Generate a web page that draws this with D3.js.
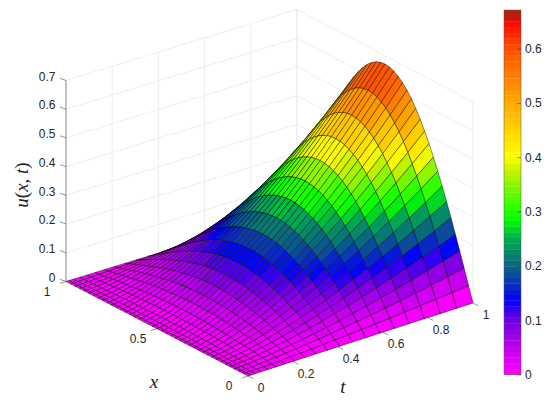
<!DOCTYPE html>
<html>
<head>
<meta charset="utf-8">
<script src="https://cdn.jsdelivr.net/npm/d3@7"></script>
<style>
body { margin: 0; background: #fff; }
text { font-family: "Liberation Sans", Arial, sans-serif; font-size: 12px; fill: #262626; }
.math { font-family: "Liberation Serif", serif; font-size: 19px; fill: #222; }
</style>
</head>
<body>
<div id="chart"></div>
<script>
// ticks
var xTicks = [0, 0.5, 1];
var tTicks = [0, 0.2, 0.4, 0.6, 0.8, 1];
var zTicks = [0, 0.1, 0.2, 0.3, 0.4, 0.5, 0.6, 0.7];
var barTicks = [0, 0.1, 0.2, 0.3, 0.4, 0.5, 0.6];

// colormap
var cmapValues = [0, 0.045, 0.1, 0.137, 0.174, 0.2, 0.248, 0.285, 0.32, 0.376, 0.4, 0.5, 0.6, 0.653, 0.656, 0.671];
var cmapColors = ["#ff00ff", "#c800f0", "#6e00e1", "#0000ff", "#0a3caa", "#0a6482", "#00aa50", "#00ff00", "#46ff00", "#c8f000", "#ffff00", "#ffaa00", "#ff5000", "#ff0000", "#b41e0a", "#b41e0a"];
var uMax = 0.671;

// mesh lines, the t spacing gets tighter near t=0
var xNodes = [0,.025,.05,.075,.1,.125,.15,.175,.2,.225,.25,.275,.3,.325,.35,.375,.4,.425,.45,.475,.5,.525,.55,.575,.6,.625,.65,.675,.7,.725,.75,.775,.8,.825,.85,.875,.9,.925,.95,.975,1];
var tNodes = [0,.0112,.0316,.0581,.0894,.125,.1643,.2071,.253,.3019,.3536,.4079,.4648,.5240,.5857,.6495,.7155,.7837,.8538,.9259,1];

// surface heights, one row per t node
var uRows = [
[0,0,0,0,0,0,0,0,0,0,0,0,0,0,0,0,0,0,0,0,0,0,0,0,0,0,0,0,0,0,0,0,0,0,0,0,0,0,0,0,0],
[0,.0001,.0001,.0002,.0002,.0003,.0004,.0004,.0005,.0005,.0006,.0006,.0006,.0007,.0007,.0007,.0008,.0008,.0008,.0008,.0008,.0008,.0008,.0008,.0008,.0007,.0007,.0007,.0006,.0006,.0006,.0005,.0005,.0004,.0004,.0003,.0002,.0002,.0001,.0001,0],
[0,.0003,.0006,.0009,.0012,.0015,.0017,.0020,.0022,.0025,.0027,.0029,.0031,.0032,.0034,.0035,.0036,.0037,.0038,.0038,.0038,.0038,.0038,.0037,.0036,.0035,.0034,.0032,.0031,.0029,.0027,.0025,.0022,.0020,.0017,.0015,.0012,.0009,.0006,.0003,0],
[0,.0007,.0015,.0022,.0029,.0036,.0043,.0049,.0055,.0061,.0066,.0071,.0076,.0080,.0084,.0087,.0089,.0091,.0093,.0094,.0094,.0094,.0093,.0091,.0089,.0087,.0084,.0080,.0076,.0071,.0066,.0061,.0055,.0049,.0043,.0036,.0029,.0022,.0015,.0007,0],
[0,.0014,.0028,.0042,.0055,.0069,.0081,.0093,.0105,.0116,.0127,.0136,.0145,.0153,.0159,.0165,.0170,.0174,.0177,.0178,.0179,.0178,.0177,.0174,.0170,.0165,.0159,.0153,.0145,.0136,.0127,.0116,.0105,.0093,.0081,.0069,.0055,.0042,.0028,.0014,0],
[0,.0023,.0046,.0069,.0092,.0114,.0135,.0155,.0175,.0193,.0210,.0226,.0240,.0253,.0265,.0274,.0282,.0289,.0293,.0296,.0297,.0296,.0293,.0289,.0282,.0274,.0265,.0253,.0240,.0226,.0210,.0193,.0175,.0155,.0135,.0114,.0092,.0069,.0046,.0023,0],
[0,.0035,.0070,.0104,.0138,.0171,.0203,.0233,.0263,.0290,.0316,.0340,.0362,.0381,.0398,.0413,.0425,.0434,.0442,.0446,.0447,.0446,.0442,.0434,.0425,.0413,.0398,.0381,.0362,.0340,.0316,.0290,.0263,.0233,.0203,.0171,.0138,.0104,.0070,.0035,0],
[0,.0049,.0099,.0147,.0195,.0242,.0287,.0330,.0372,.0410,.0447,.0480,.0511,.0539,.0563,.0584,.0601,.0614,.0624,.0630,.0632,.0630,.0624,.0614,.0601,.0584,.0563,.0539,.0511,.0480,.0447,.0410,.0372,.0330,.0287,.0242,.0195,.0147,.0099,.0049,0],
[0,.0067,.0133,.0199,.0264,.0327,.0388,.0446,.0502,.0554,.0604,.0649,.0691,.0728,.0761,.0789,.0812,.0830,.0844,.0851,.0854,.0851,.0844,.0830,.0812,.0789,.0761,.0728,.0691,.0649,.0604,.0554,.0502,.0446,.0388,.0327,.0264,.0199,.0133,.0067,0],
[0,.0087,.0174,.0259,.0344,.0426,.0505,.0581,.0654,.0722,.0787,.0846,.0900,.0949,.0992,.1028,.1058,.1082,.1100,.1110,.1113,.1110,.1100,.1082,.1058,.1028,.0992,.0949,.0900,.0846,.0787,.0722,.0654,.0581,.0505,.0426,.0344,.0259,.0174,.0087,0],
[0,.0110,.0220,.0329,.0436,.0540,.0640,.0736,.0829,.0915,.0997,.1072,.1141,.1203,.1256,.1303,.1341,.1371,.1393,.1406,.1410,.1406,.1393,.1371,.1341,.1303,.1256,.1203,.1141,.1072,.0997,.0915,.0829,.0736,.0640,.0540,.0436,.0329,.0220,.0110,0],
[0,.0136,.0273,.0407,.0540,.0669,.0794,.0912,.1028,.1134,.1236,.1328,.1414,.1491,.1557,.1615,.1662,.1699,.1727,.1743,.1748,.1743,.1727,.1699,.1662,.1615,.1557,.1491,.1414,.1328,.1236,.1134,.1028,.0912,.0794,.0669,.0540,.0407,.0273,.0136,0],
[0,.0166,.0332,.0495,.0657,.0814,.0965,.1110,.1250,.1380,.1503,.1616,.1720,.1813,.1894,.1964,.2022,.2066,.2100,.2120,.2126,.2120,.2100,.2066,.2022,.1964,.1894,.1813,.1720,.1616,.1503,.1380,.1250,.1110,.0965,.0814,.0657,.0495,.0332,.0166,0],
[0,.0199,.0397,.0593,.0787,.0975,.1156,.1329,.1497,.1652,.1800,.1935,.2060,.2172,.2268,.2353,.2421,.2475,.2515,.2538,.2546,.2538,.2515,.2475,.2421,.2353,.2268,.2172,.2060,.1935,.1800,.1652,.1497,.1329,.1156,.0975,.0787,.0593,.0397,.0199,0],
[0,.0235,.0469,.0701,.0929,.1152,.1365,.1570,.1768,.1952,.2126,.2285,.2433,.2565,.2679,.2778,.2860,.2923,.2971,.2998,.3007,.2998,.2971,.2923,.2860,.2778,.2679,.2565,.2433,.2285,.2126,.1952,.1768,.1570,.1365,.1152,.0929,.0701,.0469,.0235,0],
[0,.0274,.0548,.0819,.1086,.1345,.1595,.1834,.2066,.2280,.2484,.2670,.2842,.2997,.3130,.3246,.3341,.3415,.3471,.3502,.3513,.3502,.3471,.3415,.3341,.3246,.3130,.2997,.2842,.2670,.2484,.2280,.2066,.1834,.1595,.1345,.1086,.0819,.0548,.0274,0],
[0,.0317,.0634,.0946,.1255,.1556,.1844,.2120,.2388,.2636,.2872,.3087,.3286,.3465,.3619,.3753,.3863,.3948,.4013,.4050,.4062,.4050,.4013,.3948,.3863,.3753,.3619,.3465,.3286,.3087,.2872,.2636,.2388,.2120,.1844,.1556,.1255,.0946,.0634,.0317,0],
[0,.0363,.0726,.1085,.1438,.1783,.2113,.2430,.2737,.3021,.3291,.3538,.3766,.3971,.4148,.4301,.4427,.4525,.4599,.4641,.4655,.4641,.4599,.4525,.4427,.4301,.4148,.3971,.3766,.3538,.3291,.3021,.2737,.2430,.2113,.1783,.1438,.1085,.0726,.0363,0],
[0,.0413,.0826,.1234,.1636,.2028,.2403,.2763,.3113,.3436,.3743,.4023,.4283,.4516,.4717,.4892,.5035,.5146,.5230,.5278,.5294,.5278,.5230,.5146,.5035,.4892,.4717,.4516,.4283,.4023,.3743,.3436,.3113,.2763,.2403,.2028,.1636,.1234,.0826,.0413,0],
[0,.0466,.0933,.1393,.1847,.2290,.2714,.3121,.3516,.3880,.4227,.4544,.4837,.5100,.5327,.5525,.5686,.5812,.5907,.5961,.5979,.5961,.5907,.5812,.5686,.5525,.5327,.5100,.4837,.4544,.4227,.3880,.3516,.3121,.2714,.2290,.1847,.1393,.0933,.0466,0],
[0,.0523,.1047,.1563,.2073,.2570,.3046,.3503,.3945,.4355,.4744,.5100,.5428,.5724,.5979,.6200,.6381,.6522,.6629,.6690,.6710,.6690,.6629,.6522,.6381,.6200,.5979,.5724,.5428,.5100,.4744,.4355,.3945,.3503,.3046,.2570,.2073,.1563,.1047,.0523,0]
];

var svg = d3.select("#chart").append("svg").attr("width", 550).attr("height", 405);

// floor edges of the box, t=0 and t=1, as functions of x
var edgeT0 = d3.scaleLinear().domain([0, 1]).range([[248, 376], [66, 281.5]]);
var edgeT1 = d3.scaleLinear().domain([0, 1]).range([[473, 303], [297, 210.5]]);
var zScale = d3.scaleLinear().domain([0, 0.7]).range([0, 201]);

function project(x, t, z) {
  var a = edgeT0(x), b = edgeT1(x);
  return [a[0] + (b[0] - a[0]) * t, a[1] + (b[1] - a[1]) * t - zScale(z)];
}
var line = d3.line();

// back walls
var grid = svg.append("g").attr("fill", "none").attr("stroke", "#e6e6e6").attr("stroke-width", 0.7);
zTicks.forEach(function(z) {
  grid.append("path").attr("d", line([project(1, 0, z), project(1, 1, z), project(0, 1, z)]));
});
tTicks.forEach(function(t) {
  grid.append("path").attr("d", line([project(1, t, 0), project(1, t, 0.7)]));
});
xTicks.forEach(function(x) {
  grid.append("path").attr("d", line([project(x, 1, 0), project(x, 1, 0.7)]));
});

// axes lines and ticks
var axes = svg.append("g").attr("fill", "none").attr("stroke", "#777").attr("stroke-width", 0.8);
axes.append("path").attr("d", line([project(1, 0, 0), project(1, 0, 0.7)]));
zTicks.forEach(function(z) {
  var p = project(1, 0, z);
  axes.append("path").attr("d", line([p, [p[0] - 6, p[1] - 2.2]]));
  svg.append("text").attr("x", 55.5).attr("y", p[1] - 4).attr("dy", "0.35em").attr("text-anchor", "end").text(z);
});
xTicks.forEach(function(x) {
  var p = project(x, 0, 0);
  axes.append("path").attr("d", line([p, [p[0] - 6, p[1] + 1.8]]));
  svg.append("text").attr("x", p[0] - 19).attr("y", p[1] + 10).attr("dy", "0.35em").attr("text-anchor", "middle").text(x);
});
tTicks.forEach(function(t) {
  var p = project(0, t, 0);
  axes.append("path").attr("d", line([p, [p[0] + 5.3, p[1] + 2.8]]));
  svg.append("text").attr("x", p[0] + 13).attr("y", p[1] + 12).attr("dy", "0.35em").attr("text-anchor", "middle").text(t);
});

// axis labels
svg.append("text").attr("class", "math").attr("x", 154).attr("y", 388).attr("text-anchor", "middle").style("font-style", "italic").text("x");
svg.append("text").attr("class", "math").attr("x", 343).attr("y", 393).attr("text-anchor", "middle").style("font-style", "italic").text("t");
var ulabel = svg.append("text").attr("class", "math").attr("transform", "translate(28,185) rotate(-90)").attr("text-anchor", "middle");
ulabel.append("tspan").style("font-style", "italic").text("u");
ulabel.append("tspan").text("(");
ulabel.append("tspan").style("font-style", "italic").text("x");
ulabel.append("tspan").text(", ");
ulabel.append("tspan").style("font-style", "italic").text("t");
ulabel.append("tspan").text(")");

// colormap, 64 flat steps
var cmapLinear = d3.scaleLinear().domain(cmapValues).range(cmapColors).interpolate(d3.interpolateRgb);
var nLevels = 64;
function levelOf(v) { return Math.min(nLevels - 1, Math.floor(v / uMax * nLevels)); }
function colorOf(v) { return cmapLinear((levelOf(v) + 0.5) / nLevels * uMax); }

// surface faces, back corner first
var faces = [];
for (var j = tNodes.length - 2; j >= 0; j--) {
  for (var i = xNodes.length - 2; i >= 0; i--) {
    faces.push({i: i, j: j});
  }
}
svg.append("g").selectAll("path").data(faces).join("path")
  .attr("d", function(f) {
    var x0 = xNodes[f.i], x1 = xNodes[f.i + 1], t0 = tNodes[f.j], t1 = tNodes[f.j + 1];
    return line([project(x0, t0, uRows[f.j][f.i]), project(x1, t0, uRows[f.j][f.i + 1]),
      project(x1, t1, uRows[f.j + 1][f.i + 1]), project(x0, t1, uRows[f.j + 1][f.i])]) + "Z";
  })
  .attr("fill", function(f) { return colorOf(uRows[f.j][f.i]); })
  .attr("stroke", "#000").attr("stroke-opacity", 0.8).attr("stroke-width", 0.55).attr("stroke-linejoin", "round");

// colorbar
var barY = d3.scaleLinear().domain([0, uMax]).range([374.5, 10]);
var bar = svg.append("g");
bar.selectAll("rect").data(d3.range(nLevels)).join("rect")
  .attr("x", 504).attr("width", 17)
  .attr("y", function(k) { return barY((k + 1) / nLevels * uMax); })
  .attr("height", function(k) { return barY(k / nLevels * uMax) - barY((k + 1) / nLevels * uMax) + 0.3; })
  .attr("fill", function(k) { return cmapLinear((k + 0.5) / nLevels * uMax); });
bar.append("rect").attr("x", 504).attr("y", 10).attr("width", 17).attr("height", 364.5)
  .attr("fill", "none").attr("stroke", "#555").attr("stroke-width", 0.5);
var barAxis = svg.append("g").attr("transform", "translate(521,0)")
  .call(d3.axisRight(barY).tickValues(barTicks).tickSize(-4).tickPadding(4).tickFormat(function(d) { return d; }));
barAxis.select(".domain").remove();
barAxis.selectAll("line").attr("stroke", "#333").attr("stroke-width", 0.5);
barAxis.selectAll("text").attr("font-size", null).attr("font-family", null).attr("x", 4);
</script>
</body>
</html>
